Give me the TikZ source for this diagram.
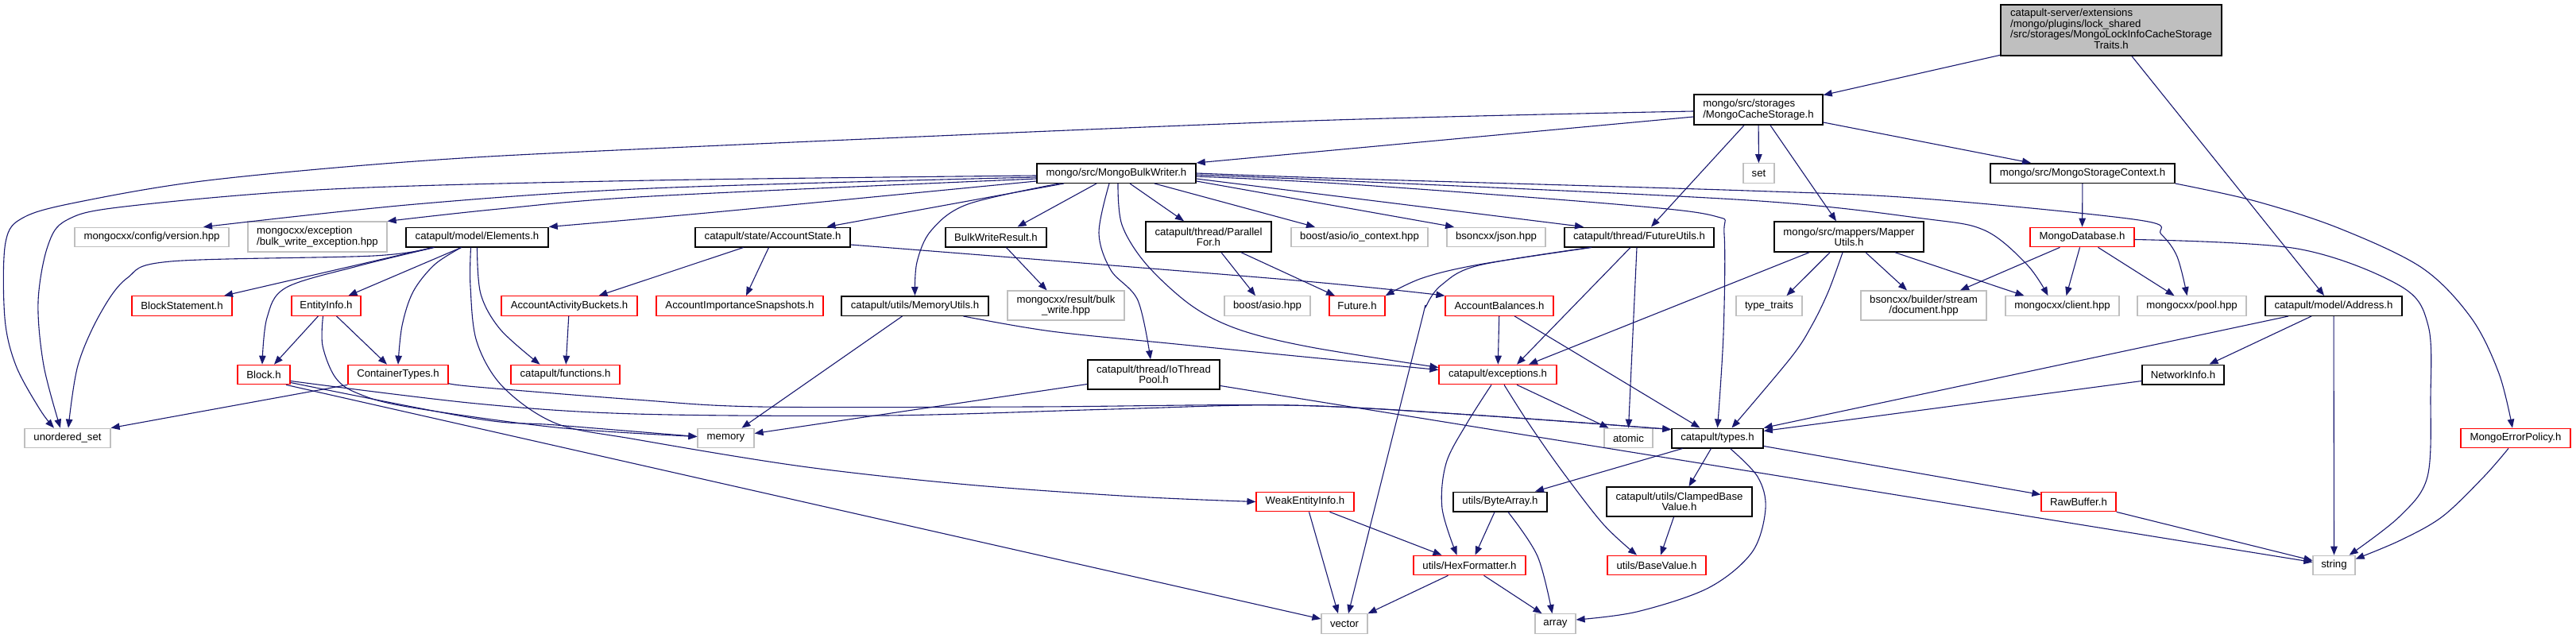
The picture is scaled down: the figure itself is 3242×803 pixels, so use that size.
\documentclass[tikz,border=0pt]{standalone}
\usepackage{fontspec}
\setmainfont{Liberation Sans}
\usetikzlibrary{arrows.meta}
\definecolor{mblue}{HTML}{191970}
\definecolor{gfs}{HTML}{BFBFBF}
\newcommand\nf{\fontsize{13.2}{13.3}\selectfont}
\tikzset{
  base/.style={rectangle, inner sep=0pt, font=\nf, align=center, line width=1.2pt},
  nb/.style={base, draw=black, line width=1.5pt},
  nr/.style={base, draw=red},
  ng/.style={base, draw=gfs},
  ntop/.style={base, draw=black, fill=gfs, line width=1.5pt},
  sz/.style 2 args={minimum width=#1pt, minimum height=#2pt},
  edge/.style={draw=mblue, line width=1.1pt, -{Triangle[length=11pt,width=8.5pt]}},
  sm/.style={smooth, tension=0.55}
}
\begin{document}
\begin{tikzpicture}[x=1pt,y=-1pt]
\fill[white] (0,0) rectangle (3242,803);
\useasboundingbox (0,0) rectangle (3242,803);
% nodes
\node[ntop, sz={278}{64}] (T) at (2657,38) {\renewcommand\arraystretch{1}\begin{tabular}{@{}l@{}}catapult-server/extensions\\/mongo/plugins/lock\_shared\\/src/storages/MongoLockInfoCacheStorage\\\multicolumn{1}{@{}c@{}}{Traits.h}\end{tabular}};
\node[nb, sz={162}{38}, align=left] (MCS) at (2213,138) {mongo/src/storages\\/MongoCacheStorage.h};
\node[nb, sz={200}{24.5}] (MBW) at (1405,218) {mongo/src/MongoBulkWriter.h};
\node[ng, sz={39}{24.5}] (SET) at (2213.5,218) {set};
\node[nb, sz={232}{24.5}] (MSC) at (2621,218) {mongo/src/MongoStorageContext.h};
\node[ng, sz={194}{24.5}] (VER) at (191,298.5) {mongocxx/config/version.hpp};
\node[ng, sz={175}{38}, align=left] (BWE) at (399.5,298) {mongocxx/exception\\/bulk\_write\_exception.hpp};
\node[nb, sz={179}{24.5}] (EL) at (600.5,298.5) {catapult/model/Elements.h};
\node[nb, sz={195}{24.5}] (AS) at (972.5,298.5) {catapult/state/AccountState.h};
\node[nb, sz={127}{24.5}] (BWR) at (1253.5,298.5) {BulkWriteResult.h};
\node[nb, sz={158}{38}] (PF) at (1521,298) {catapult/thread/Parallel\\For.h};
\node[ng, sz={172}{24.5}] (IOC) at (1711,298.5) {boost/asio/io\_context.hpp};
\node[ng, sz={124}{24.5}] (JSON) at (1883,298.5) {bsoncxx/json.hpp};
\node[nb, sz={188}{24.5}] (FU) at (2063,298.5) {catapult/thread/FutureUtils.h};
\node[nb, sz={188}{38}] (MU) at (2327,298) {mongo/src/mappers/Mapper\\Utils.h};
\node[nr, sz={131}{24.5}] (MDB) at (2620.5,298.5) {MongoDatabase.h};
\node[nr, sz={126}{24.5}] (BS) at (229,385) {BlockStatement.h};
\node[nr, sz={87}{24.5}] (EI) at (410.5,385) {EntityInfo.h};
\node[nr, sz={171}{24.5}] (AAB) at (716.5,385) {AccountActivityBuckets.h};
\node[nr, sz={210}{24.5}] (AIS) at (931,385) {AccountImportanceSnapshots.h};
\node[nb, sz={185}{24.5}] (MEMU) at (1151.5,385) {catapult/utils/MemoryUtils.h};
\node[ng, sz={147}{37}] (BWH) at (1341.5,384.5) {mongocxx/result/bulk\\\_write.hpp};
\node[ng, sz={108}{24.5}] (ASIO) at (1595,385) {boost/asio.hpp};
\node[nr, sz={70}{24.5}] (FUT) at (1708,385) {Future.h};
\node[nr, sz={136}{24.5}] (AB) at (1887,385) {AccountBalances.h};
\node[ng, sz={83}{24.5}] (TT) at (2226.5,385) {type\_traits};
\node[ng, sz={158}{37}] (DOC) at (2421,384.5) {bsoncxx/builder/stream\\/document.hpp};
\node[ng, sz={143}{24.5}] (CLI) at (2595.5,385) {mongocxx/client.hpp};
\node[ng, sz={137}{24.5}] (POOL) at (2758.5,385) {mongocxx/pool.hpp};
\node[nb, sz={172}{24.5}] (ADDR) at (2937,385) {catapult/model/Address.h};
\node[nr, sz={66}{24.5}] (BLK) at (332,471.5) {Block.h};
\node[nr, sz={126}{24.5}] (CT) at (501,471.5) {ContainerTypes.h};
\node[nr, sz={137}{24.5}] (FUN) at (711.5,471.5) {catapult/functions.h};
\node[nb, sz={166}{37}] (IOTP) at (1452,471.5) {catapult/thread/IoThread\\Pool.h};
\node[nr, sz={148}{24.5}] (EXC) at (1885,471.5) {catapult/exceptions.h};
\node[nb, sz={103}{24.5}] (NI) at (2747.5,471.5) {NetworkInfo.h};
\node[ng, sz={108}{24.5}] (US) at (85,551.5) {unordered\_set};
\node[ng, sz={71}{24.5}] (MEM) at (913.5,551.5) {memory};
\node[ng, sz={61}{24.5}] (ATOM) at (2049.5,551.5) {atomic};
\node[nb, sz={115}{24.5}] (TYP) at (2161.5,551.5) {catapult/types.h};
\node[nr, sz={138}{24.5}] (MEP) at (3166,551.5) {MongoErrorPolicy.h};
\node[nr, sz={123}{24.5}] (WEI) at (1642.5,631.5) {WeakEntityInfo.h};
\node[nb, sz={118}{24.5}] (BA) at (1888,631.5) {utils/ByteArray.h};
\node[nb, sz={183}{37}] (CBV) at (2113.5,631.5) {catapult/utils/ClampedBase\\Value.h};
\node[nr, sz={94}{24.5}] (RB) at (2616,631.5) {RawBuffer.h};
\node[nr, sz={141}{24.5}] (HEX) at (1849.5,711.5) {utils/HexFormatter.h};
\node[nr, sz={124}{24.5}] (BV) at (2085,711.5) {utils/BaseValue.h};
\node[ng, sz={53}{24.5}] (STR) at (2937.5,711.5) {string};
\node[ng, sz={58}{24.5}] (VEC) at (1692,785) {vector};
\node[ng, sz={51}{24.5}] (ARR) at (1957.5,785) {array};
% edges
\draw[edge] (T) -- (MCS);
\draw[edge] ([xshift=26pt]T.south) -- ([xshift=-12pt]ADDR.north);
\draw[edge] ([yshift=-9pt]MCS.west) -- (MBW.north east);
\draw[edge] plot[sm] coordinates {([yshift=-2pt]MCS.west) (1620,153) (820,187) (523,203) (262,227) (105,253) (31,273) (7,305) (6,400) (20,460) (50,515) ([xshift=-17pt]US.north)};
\draw[edge] (MCS) -- (SET);
\draw[edge] ([xshift=-18pt]MCS.south) -- ([xshift=15pt]FU.north);
\draw[edge] ([xshift=15pt]MCS.south) -- ([xshift=-16pt]MU.north);
\draw[edge] ([yshift=-16pt]MCS.east) -- ([xshift=-65pt]MSC.north);
% MBW
\draw[edge] plot[sm] coordinates {([yshift=-3pt]MBW.west) (820,227) (418,238) (157,260) (84,277) (60,310) (48,380) (55,460) ([xshift=-9pt]US.north)};
\draw[edge] plot[sm] coordinates {([yshift=-5pt]MBW.west) (820,237) (523,257) ([xshift=65pt]VER.north)};
\draw[edge] plot[sm] coordinates {([yshift=-7pt]MBW.west) (820,247) (628,263) (BWE.north east)};
\draw[edge] plot[sm] coordinates {([yshift=-10pt]MBW.west) (900,267) (EL.north east)};
\draw[edge] ([xshift=-66pt]MBW.south) -- ([xshift=68pt]AS.north);
\draw[edge] plot[sm] coordinates {([xshift=-72pt]MBW.south) (1218,257) (1172,290) (1154,330) (MEMU.north)};
\draw[edge] ([xshift=-25pt]MBW.south) -- ([xshift=27pt]BWR.north);
\draw[edge] plot[sm] coordinates {([xshift=-9pt]MBW.south) (1383,293) (1398,340) (1432,378) ([xshift=-4pt]IOTP.north)};
\draw[edge] plot[sm] coordinates {([xshift=2pt]MBW.south) (1412,283) (1443,333) (1500,385) (1560,415) (1650,437) ([yshift=9pt]EXC.west)};
\draw[edge] ([xshift=17pt]MBW.south) -- ([xshift=-31pt]PF.north);
\draw[edge] ([xshift=48pt]MBW.south) -- ([xshift=-56pt]IOC.north);
\draw[edge] ([yshift=-10pt]MBW.east) -- ([xshift=-53pt]JSON.north);
\draw[edge] ([yshift=-7pt]MBW.east) -- ([xshift=-70pt]FU.north);
\draw[edge] plot[sm] coordinates {([yshift=-4pt]MBW.east) (1700,232) (2033,257) (2158,272) (2170,295) (2169,420) (TYP.north)};
\draw[edge] plot[sm] coordinates {([yshift=-2pt]MBW.east) (1700,228) (2200,252) (2420,275) (2498,290) (2551,333) ([xshift=-18pt]CLI.north)};
\draw[edge] plot[sm] coordinates {([yshift=0pt]MBW.east) (1700,225) (2200,240) (2420,250) (2692,277) (2720,295) (2740,323) ([xshift=-6pt]POOL.north)};
% Elements
\draw[edge] plot[sm] coordinates {([xshift=-56pt]EL.south) (470,322) (215,329) (160,350) (126,395) (98,460) ([xshift=1pt]US.north)};
\draw[edge] ([xshift=-56pt]EL.south) -- ([xshift=53pt]BS.north);
\draw[edge] plot[sm] coordinates {([xshift=-54pt]EL.south) (450,335) (360,362) (336,400) ([xshift=-2pt]BLK.north)};
\draw[edge] ([xshift=-20pt]EL.south) -- ([xshift=28pt]EI.north);
\draw[edge] plot[sm] coordinates {([xshift=-20pt]EL.south) (547,333) (520,367) (506,410) (CT.north)};
\draw[edge] plot[sm] coordinates {([xshift=-8pt]EL.south) (592,360) (600,430) (633,487) (700,533) (800,553) (1009,587) (1218,610) (1428,625) (WEI.west)};
\draw[edge] plot[sm] coordinates {(EL.south) (605,370) (630,415) ([xshift=-32pt]FUN.north)};
% EntityInfo
\draw[edge] ([xshift=-10pt]EI.south) -- ([xshift=13pt]BLK.north);
\draw[edge] ([xshift=13pt]EI.south) -- ([xshift=-14pt]CT.north);
\draw[edge] plot[sm] coordinates {([xshift=-4pt]EI.south) (406,435) (422,475) (450,495) (513,512) (700,538) ([yshift=2pt]MEM.west)};
% Block
\draw[edge] plot[sm] coordinates {([yshift=-8pt]BLK.east) (600,508) (800,521) (1114,523) (1400,515) (1620,510) (1850,522) ([yshift=11pt]TYP.west)};
\draw[edge] plot[sm] coordinates {([yshift=-10pt]BLK.east) (600,527) (700,535) ([yshift=2pt]MEM.west)};
\draw[edge] ([xshift=28pt]BLK.south) -- ([yshift=6pt]VEC.west);
% ContainerTypes
\draw[edge] (CT.south west) -- (US.north east);
\draw[edge] plot[sm] coordinates {([yshift=-11pt]CT.east) (600,487) (800,503) (957,512) (1300,512) (1620,510) (1850,522) ([yshift=11pt]TYP.west)};
% AccountState
\draw[edge] ([xshift=-37pt]AS.south) -- ([xshift=37pt]AAB.north);
\draw[edge] ([xshift=-5pt]AS.south) -- ([xshift=8pt]AIS.north);
\draw[edge] plot[sm] coordinates {([yshift=-9.5pt]AS.east) (1620,352) (AB.north west)};
\draw[edge] (AAB) -- (FUN);
\draw[edge] ([xshift=13pt]BWR.south) -- ([xshift=-24pt]BWH.north);
\draw[edge] ([xshift=16pt]PF.south) -- ([xshift=-15pt]ASIO.north);
\draw[edge] ([xshift=41pt]PF.south) -- ([xshift=-28pt]FUT.north);
\draw[edge] ([xshift=-16pt]MEMU.south) -- ([xshift=20pt]MEM.north);
\draw[edge] plot[sm] coordinates {([xshift=61pt]MEMU.south) (1323,417) (1480,433) (1620,447) ([yshift=6pt]EXC.west)};
\draw[edge] ([yshift=-12pt]IOTP.west) -- ([yshift=6pt]MEM.east);
\draw[edge] ([yshift=-14pt]IOTP.east) -- ([yshift=4pt]STR.west);
% FutureUtils
\draw[edge] plot[sm] coordinates {([xshift=-60pt]FU.south) (1861,333) (1790,350) (FUT.north east)};
\draw[edge] plot[sm] coordinates {([xshift=-62pt]FU.south) (1861,334) (1815,358) (1795,385) (1785,420) ([xshift=5pt]VEC.north)};
\draw[edge] ([xshift=-11pt]FU.south) -- ([xshift=24pt]EXC.north);
\draw[edge] ([xshift=-3pt]FU.south) -- (ATOM.north);
% AccountBalances
\draw[edge] (AB) -- (EXC);
\draw[edge] ([xshift=19pt]AB.south) -- ([xshift=-22pt]TYP.north);
% MapperUtils
\draw[edge] ([xshift=-50pt]MU.south) -- ([xshift=39pt]EXC.north);
\draw[edge] ([xshift=-24pt]MU.south) -- ([xshift=22pt]TT.north);
\draw[edge] plot[sm] coordinates {([xshift=-8pt]MU.south) (2301,367) (2280,410) (2254,450) ([xshift=18pt]TYP.north)};
\draw[edge] ([xshift=21pt]MU.south) -- ([xshift=-21pt]DOC.north);
\draw[edge] ([xshift=58pt]MU.south) -- ([xshift=-48pt]CLI.north);
% StorageContext / Database
\draw[edge] (MSC) -- (MDB);
\draw[edge] plot[sm] coordinates {(MSC.south east) (2838,253) (2943,287) (3048,337) (3110,400) (3145,470) ([xshift=-4pt]MEP.north)};
\draw[edge] ([xshift=-28pt]MDB.south) -- ([xshift=46pt]DOC.north);
\draw[edge] ([xshift=-3pt]MDB.south) -- ([xshift=5pt]CLI.north);
\draw[edge] ([xshift=20pt]MDB.south) -- ([xshift=-22pt]POOL.north);
\draw[edge] plot[sm] coordinates {([yshift=-3pt]MDB.east) (2891,313) (3021,360) (3056,410) (3059,500) (3055,600) (3020,650) ([xshift=-8pt]STR.north east)};
\draw[edge] plot[sm] coordinates {([xshift=-9pt]MEP.south) (3126,600) (3074,650) (3021,680) ([yshift=8pt]STR.east)};
% Address
\draw[edge] ([xshift=-57pt]ADDR.south) -- (TYP.north east);
\draw[edge] ([xshift=-28pt]ADDR.south) -- ([xshift=33pt]NI.north);
\draw[edge] (ADDR) -- (STR);
\draw[edge] ([yshift=-8pt]NI.west) -- ([yshift=9pt]TYP.east);
% types
\draw[edge] ([xshift=-44pt]TYP.south) -- ([xshift=44pt]BA.north);
\draw[edge] ([xshift=-8pt]TYP.south) -- ([xshift=12pt]CBV.north);
\draw[edge] plot[sm] coordinates {([xshift=16pt]TYP.south) (2212,600) (2222,640) (2205,695) (2150,740) (2060,770) ([yshift=5pt]ARR.east)};
\draw[edge] ([yshift=-10pt]TYP.east) -- ([yshift=9pt]RB.west);
\draw[edge] (RB.south east) -- ([yshift=6pt]STR.west);
\draw[edge] ([xshift=-7pt]CBV.south) -- ([xshift=5pt]BV.north);
% exceptions
\draw[edge] plot[sm] coordinates {([xshift=-8pt]EXC.south) (1846,533) (1820,583) (1815,640) ([xshift=-16pt]HEX.north)};
\draw[edge] plot[sm] coordinates {([xshift=8pt]EXC.south) (1924,533) (1966,593) (2018,660) ([xshift=-25pt]BV.north)};
\draw[edge] ([xshift=24pt]EXC.south) -- ([xshift=-25pt]ATOM.north);
% ByteArray, HexFormatter, WeakEntityInfo
\draw[edge] ([xshift=-7pt]BA.south) -- ([xshift=7pt]HEX.north);
\draw[edge] plot[sm] coordinates {([xshift=10pt]BA.south) (1935,700) ([xshift=-4pt]ARR.north)};
\draw[edge] ([xshift=-27pt]HEX.south) -- (VEC.north east);
\draw[edge] ([xshift=18pt]HEX.south) -- ([xshift=-17pt]ARR.north);
\draw[edge] ([xshift=5pt]WEI.south) -- ([xshift=-8pt]VEC.north);
\draw[edge] ([xshift=31pt]WEI.south) -- ([xshift=-35pt]HEX.north);
\end{tikzpicture}
\end{document}
